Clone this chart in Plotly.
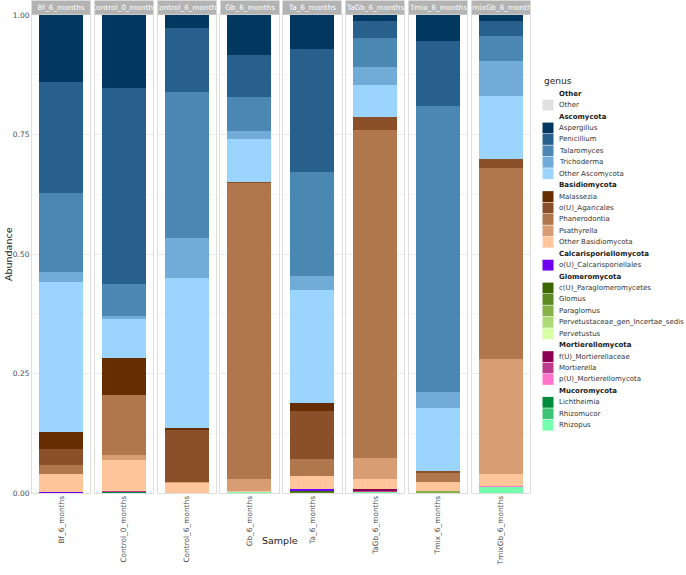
import plotly.graph_objects as go
from plotly.subplots import make_subplots

samples = ["Bf_6_months", "Control_0_months", "Control_6_months", "Gb_6_months",
           "Ta_6_months", "TaGb_6_months", "Tmix_6_months", "TmixGb_6_months"]

# legend / stack order (top of bar first)
phyla = ["Other", "Ascomycota", "Basidiomycota", "Calcarisporiellomycota",
         "Glomeromycota", "Mortierellomycota", "Mucoromycota"]
phylum_genera = {
    "Other": ["Other"],
    "Ascomycota": ["Aspergillus", "Penicillium", "Talaromyces", "Trichoderma", "Other Ascomycota"],
    "Basidiomycota": ["Malassezia", "o(U)_Agaricales", "Phanerodontia", "Psathyrella", "Other Basidiomycota"],
    "Calcarisporiellomycota": ["o(U)_Calcarisporiellales"],
    "Glomeromycota": ["c(U)_Paraglomeromycetes", "Glomus", "Paraglomus",
                      "Pervetustaceae_gen_Incertae_sedis", "Pervetustus"],
    "Mortierellomycota": ["f(U)_Mortierellaceae", "Mortierella", "p(U)_Mortierellomycota"],
    "Mucoromycota": ["Lichtheimia", "Rhizomucor", "Rhizopus"],
}

colors = {
    "Other": "#E0E0E0",
    "Aspergillus": "#02375F", "Penicillium": "#27608C", "Talaromyces": "#4B87B3",
    "Trichoderma": "#71ACD8", "Other Ascomycota": "#9BD5FF",
    "Malassezia": "#662D00", "o(U)_Agaricales": "#8B5029", "Phanerodontia": "#B0774D",
    "Psathyrella": "#D89D73", "Other Basidiomycota": "#FFC69C",
    "o(U)_Calcarisporiellales": "#7000F0",
    "c(U)_Paraglomeromycetes": "#3B6600", "Glomus": "#5D8A22", "Paraglomus": "#86B048",
    "Pervetustaceae_gen_Incertae_sedis": "#AED977", "Pervetustus": "#D7FFA2",
    "f(U)_Mortierellaceae": "#8A0052", "Mortierella": "#BD3A8C", "p(U)_Mortierellomycota": "#FF74CB",
    "Lichtheimia": "#008A3C", "Rhizomucor": "#3CC474", "Rhizopus": "#73FFAB",
}

# abundance per genus, one value per sample (order of `samples`)
Other = [0, 0, 0, 0, 0, 0, 0, 0]
Aspergillus = [0.140, 0.152, 0.027, 0.084, 0.072, 0.012, 0.055, 0.012]
Penicillium = [0.233, 0.411, 0.134, 0.088, 0.256, 0.037, 0.136, 0.031]
Talaromyces = [0.164, 0.066, 0.305, 0.070, 0.217, 0.060, 0.598, 0.054]
Trichoderma = [0.022, 0.008, 0.085, 0.017, 0.030, 0.037, 0.033, 0.072]
Other_Ascomycota = [0.314, 0.081, 0.314, 0.090, 0.237, 0.067, 0.133, 0.133]
Malassezia = [0.035, 0.076, 0.002, 0.000, 0.016, 0.000, 0.000, 0.000]
Agaricales = [0.033, 0.000, 0.109, 0.002, 0.1015, 0.028, 0.003, 0.019]
Phanerodontia = [0.019, 0.1265, 0.000, 0.620, 0.0345, 0.686, 0.020, 0.398]
Psathyrella = [0.000, 0.0105, 0.002, 0.025, 0.000, 0.044, 0.000, 0.241]
Other_Basidiomycota = [0.037, 0.065, 0.022, 0.001, 0.027, 0.021, 0.018, 0.025]
Calcarisporiellales = [0.003, 0.000, 0.000, 0.000, 0.003, 0.000, 0.000, 0.000]
Paraglomeromycetes = [0.000, 0.000, 0.000, 0.000, 0.003, 0.000, 0.000, 0.000]
Glomus = [0.000, 0.000, 0.000, 0.000, 0.002, 0.000, 0.000, 0.000]
Paraglomus = [0.000, 0.000, 0.000, 0.000, 0.000, 0.000, 0.002, 0.000]
Pervetustaceae = [0.000, 0.000, 0.000, 0.000, 0.000, 0.000, 0.002, 0.000]
Pervetustus = [0, 0, 0, 0, 0, 0, 0, 0]
Mortierellaceae = [0.000, 0.000, 0.000, 0.000, 0.000, 0.003, 0.000, 0.000]
Mortierella = [0.000, 0.001, 0.000, 0.000, 0.000, 0.001, 0.000, 0.000]
Mortierellomycota_U = [0.000, 0.000, 0.000, 0.000, 0.000, 0.000, 0.000, 0.002]
Lichtheimia = [0.000, 0.002, 0.000, 0.000, 0.001, 0.000, 0.000, 0.000]
Rhizomucor = [0.000, 0.001, 0.000, 0.000, 0.000, 0.000, 0.000, 0.000]
Rhizopus = [0.000, 0.000, 0.000, 0.003, 0.000, 0.004, 0.000, 0.013]

values = {
    "Other": Other, "Aspergillus": Aspergillus, "Penicillium": Penicillium,
    "Talaromyces": Talaromyces, "Trichoderma": Trichoderma, "Other Ascomycota": Other_Ascomycota,
    "Malassezia": Malassezia, "o(U)_Agaricales": Agaricales, "Phanerodontia": Phanerodontia,
    "Psathyrella": Psathyrella, "Other Basidiomycota": Other_Basidiomycota,
    "o(U)_Calcarisporiellales": Calcarisporiellales,
    "c(U)_Paraglomeromycetes": Paraglomeromycetes, "Glomus": Glomus, "Paraglomus": Paraglomus,
    "Pervetustaceae_gen_Incertae_sedis": Pervetustaceae, "Pervetustus": Pervetustus,
    "f(U)_Mortierellaceae": Mortierellaceae, "Mortierella": Mortierella,
    "p(U)_Mortierellomycota": Mortierellomycota_U,
    "Lichtheimia": Lichtheimia, "Rhizomucor": Rhizomucor, "Rhizopus": Rhizopus,
}

genus_order = [g for p in phyla for g in phylum_genera[p]]

W, H = 686, 575
ML, MR, MT, MB = 32, 156, 15, 82
FONT = "DejaVu Sans"

fig = make_subplots(rows=1, cols=8, shared_yaxes=True, horizontal_spacing=0.0089)

for j, s in enumerate(samples):
    for g in reversed(genus_order):
        v = values[g][j]
        fig.add_trace(go.Bar(x=[0], y=[v], width=0.9, marker_color=colors[g],
                             marker_line_width=0, showlegend=False, name=g),
                      row=1, col=j + 1)
    fig.update_xaxes(range=[-0.6, 0.6], tickvals=[0], ticktext=[s], tickangle=-90,
                     row=1, col=j + 1)

fig.update_xaxes(showgrid=False, zeroline=False, showline=True, mirror=True,
                 linecolor="#DEDEDE", linewidth=1, ticks="", ticklabelstandoff=-1,
                 automargin=False,
                 tickfont=dict(size=7.4, color="#4D4D4D", family=FONT))
fig.update_yaxes(range=[0, 1], tickvals=[0, 0.25, 0.5, 0.75, 1],
                 ticktext=["0.00", "0.25", "0.50", "0.75", "1.00"],
                 showgrid=True, gridcolor="#EBEBEB", gridwidth=1, zeroline=False,
                 minor=dict(tickvals=[0.125, 0.375, 0.625, 0.875], showgrid=True,
                            gridcolor="#F4F4F4", gridwidth=0.5),
                 showline=True, mirror=True, linecolor="#DEDEDE", linewidth=1, ticks="",
                 automargin=False,
                 tickfont=dict(size=7.5, color="#4D4D4D", family=FONT))

fig.update_layout(barmode="stack", width=W, height=H,
                  margin=dict(l=ML, r=MR, t=MT, b=MB, autoexpand=False),
                  paper_bgcolor="white", plot_bgcolor="white",
                  font=dict(family=FONT), showlegend=False, bargap=0)

def px2x(px):
    return (px - ML) / (W - ML - MR)

def px2y(py):
    return 1 - (py - MT) / (H - MT - MB)

annotations = []
# facet strips
for j, s in enumerate(samples):
    ax = fig.layout["xaxis" if j == 0 else f"xaxis{j+1}"]
    d0, d1 = ax.domain
    wpx = (d1 - d0) * (W - ML - MR)
    annotations.append(dict(x=(d0 + d1) / 2, y=1, xref="paper", yref="paper",
                            xanchor="center", yanchor="bottom", yshift=0,
                            text=s, showarrow=False, width=wpx, height=13,
                            borderpad=0, bgcolor="#B3B3B3",
                            font=dict(size=7.3, color="white", family=FONT)))

# axis titles
annotations.append(dict(x=px2x(8), y=px2y(254), xref="paper", yref="paper",
                        xanchor="center", yanchor="middle",
                        text="Abundance", textangle=-90, showarrow=False,
                        font=dict(size=9.5, color="#1A1A1A", family=FONT)))
annotations.append(dict(x=px2x(280), y=px2y(540), xref="paper", yref="paper",
                        xanchor="center", yanchor="middle",
                        text="Sample", showarrow=False,
                        font=dict(size=9.5, color="#1A1A1A", family=FONT)))

# legend (manual, ggplot-style with phylum headers)
shapes = []
annotations.append(dict(x=px2x(542), y=px2y(81), xref="paper", yref="paper",
                        xanchor="left", yanchor="middle", text="genus", showarrow=False,
                        font=dict(size=9, color="#1A1A1A", family=FONT)))
row_h = 11.43
y0 = 93.7
i = 0
for p in phyla:
    cy = y0 + i * row_h
    annotations.append(dict(x=px2x(557), y=px2y(cy), xref="paper", yref="paper",
                            xanchor="left", yanchor="middle", text=f"<b>{p}</b>",
                            showarrow=False, font=dict(size=7, color="#1A1A1A", family=FONT)))
    i += 1
    for g in phylum_genera[p]:
        cy = y0 + i * row_h
        shapes.append(dict(type="rect", xref="paper", yref="paper",
                           x0=px2x(542.5), x1=px2x(553.5),
                           y0=px2y(cy - row_h / 2 + 0.3), y1=px2y(cy + row_h / 2 - 0.3),
                           fillcolor=colors[g], line=dict(width=0)))
        annotations.append(dict(x=px2x(557), y=px2y(cy), xref="paper", yref="paper",
                                xanchor="left", yanchor="middle", text=g,
                                showarrow=False, font=dict(size=7, color="#333333", family=FONT)))
        i += 1

fig.update_layout(annotations=annotations, shapes=shapes)
fig.write_html("out.html")
